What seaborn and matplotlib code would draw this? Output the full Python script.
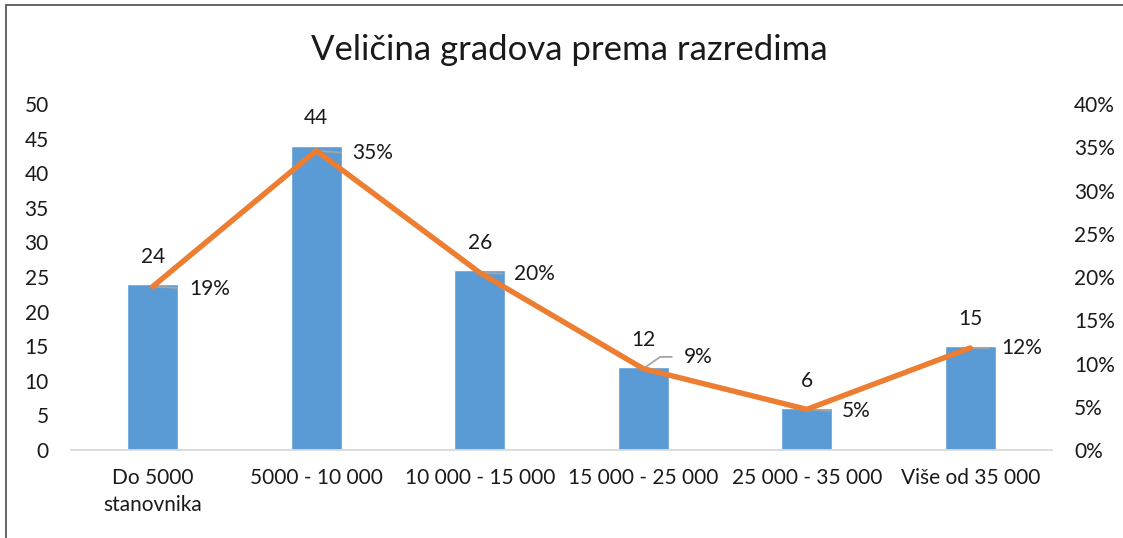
import matplotlib
matplotlib.use("Agg")
import matplotlib.pyplot as plt
import seaborn as sns
import pandas as pd
from matplotlib.lines import Line2D

categories = ["Do 5000\nstanovnika", "5000 - 10 000", "10 000 - 15 000",
              "15 000 - 25 000", "25 000 - 35 000", "Više od 35 000"]
counts = [24, 44, 26, 12, 6, 15]
shares = [0.189, 0.346, 0.205, 0.094, 0.047, 0.118]
left_ticks = [0, 5, 10, 15, 20, 25, 30, 35, 40, 45, 50]
right_ticks = [0, 0.05, 0.10, 0.15, 0.20, 0.25, 0.30, 0.35, 0.40]
title = "Veličina gradova prema razredima"

sns.set_theme(style="white")
plt.rcParams["font.family"] = ["Lato", "DejaVu Sans"]

df = pd.DataFrame({"cat": categories, "count": counts, "share": shares})

W, H = 1123, 538
fig = plt.figure(figsize=(W / 100, H / 100), dpi=100)
ax = fig.add_axes([71 / W, (H - 450) / H, (1052 - 71) / W, (450 - 104) / H])

FS = 15
TXT = "#1a1a1a"

sns.barplot(data=df, x="cat", y="count", ax=ax, color="#5B9BD5",
            saturation=1, width=0.31, errorbar=None)
ax.set_ylim(0, 50)
ax.set_yticks(left_ticks)
ax.set_xlim(-0.5, len(categories) - 0.5)
ax.set_xlabel("")
ax.set_ylabel("")
for s in ["top", "right", "left"]:
    ax.spines[s].set_visible(False)
ax.spines["bottom"].set_color("#D9D9D9")
ax.spines["bottom"].set_linewidth(1.3)
ax.tick_params(axis="y", length=0, pad=16, labelsize=FS, labelcolor=TXT)
ax.tick_params(axis="x", length=0, pad=13, labelsize=FS, labelcolor=TXT)
for lab in ax.get_xticklabels():
    lab.set_linespacing(1.45)

ax2 = ax.twinx()
sns.pointplot(data=df, x="cat", y="share", ax=ax2, color="#ED7D31",
              markers="", errorbar=None, linewidth=3.9)
ax2.set_ylim(0, 0.40)
ax2.set_yticks(right_ticks)
ax2.set_yticklabels([f"{v:.0%}" for v in right_ticks])
ax2.set_xlim(-0.5, len(categories) - 0.5)
ax2.set_ylabel("")
ax2.set_xlabel("")
for s in ["top", "right", "left", "bottom"]:
    ax2.spines[s].set_visible(False)
ax2.tick_params(axis="y", length=0, pad=16, labelsize=FS, labelcolor=TXT)

# bar value labels
for i, v in enumerate(counts):
    ax.annotate(f"{v}", xy=(i, v), xytext=(0, 19.5), textcoords="offset points",
                ha="center", va="center", fontsize=FS, color=TXT)

# percentage labels with leader lines
offsets = [(26, -1.5), (26, -2), (25, -1), (29, 8.5), (25, -1.5), (22, 0)]
for i, p in enumerate(shares):
    dx, dy = offsets[i]
    if i == 3:
        cs = "angle,angleA=0,angleB=35,rad=0"
    else:
        cs = "arc3,rad=0"
    ax2.annotate(f"{p:.0%}", xy=(i, p), xytext=(dx, dy), textcoords="offset points",
                 ha="left", va="center", fontsize=FS, color=TXT,
                 arrowprops=dict(arrowstyle="-", color="#A5A5A5", lw=1.3,
                                 shrinkA=6, shrinkB=0, connectionstyle=cs,
                                 relpos=(0, 0.5)),
                 zorder=1)

fig.suptitle(title, x=0.507, y=1 - 50 / H, va="center", fontsize=25, color=TXT)

# chart frame
fig.add_artist(Line2D([6 / W, 6 / W], [0, 1 - 5 / H], transform=fig.transFigure,
                      color="#595959", lw=1.3))
fig.add_artist(Line2D([6 / W, 1], [1 - 5 / H, 1 - 5 / H], transform=fig.transFigure,
                      color="#595959", lw=1.3))

fig.savefig("out.png", dpi=100)
